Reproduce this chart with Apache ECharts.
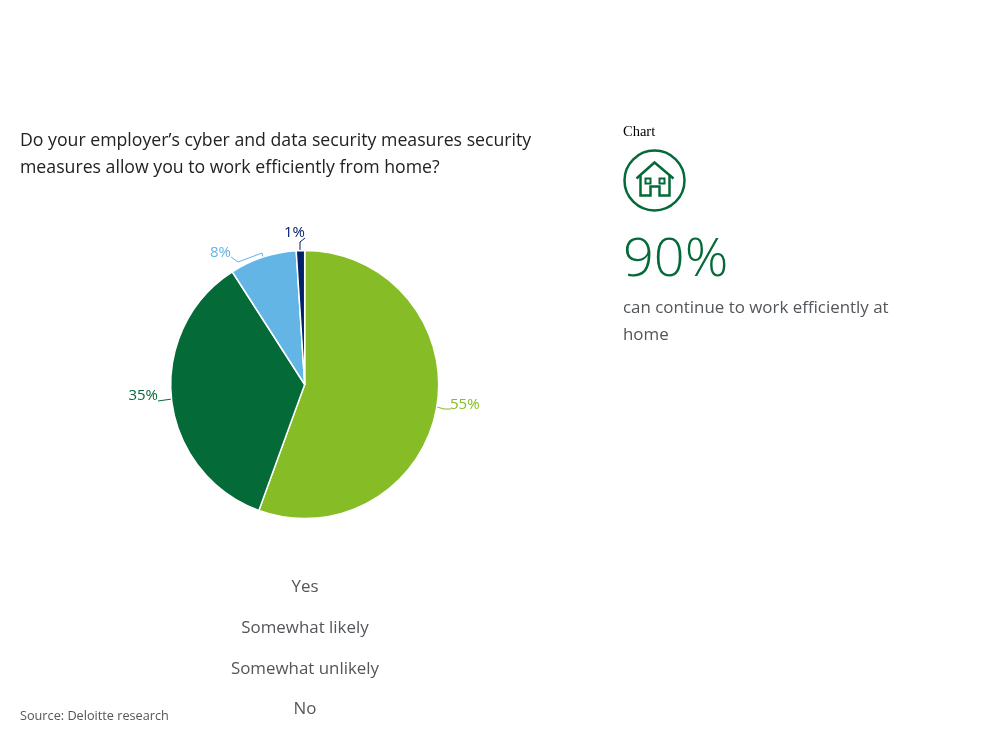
<!DOCTYPE html>
<html>
<head>
<meta charset="utf-8">
<style>
    html, body { margin: 0; padding: 0; background: #fff; }
    #chart { width: 1008px; height: 752px; }
</style>
<script src="https://cdn.jsdelivr.net/npm/echarts@6/dist/echarts.min.js"></script>
</head>
<body>
<div id="chart"></div>
<script>
// chart data
var categories = ['Yes', 'Somewhat likely', 'Somewhat unlikely', 'No'];
var shares = [55, 35, 8, 1];
var sliceColors = ['#86bc25', '#046a38', '#62b5e5', '#012169'];

var question = 'Do your employer\u2019s cyber and data security measures security\nmeasures allow you to work efficiently from home?';
var calloutValue = '90%';
var calloutText = 'can continue to work efficiently at\nhome';
var sourceText = 'Source: Deloitte research';

var fontName = '"Open Sans", sans-serif';
var darkGreen = '#046a38';
var grey = '#53565a';

// label anchor and leader line for each slice, clockwise from the top
var labelSpots = [
    {x: 450, y: 405, align: 'left', line: [[437, 407], [444, 409], [451, 409]]},
    {x: 158, y: 396, align: 'right', line: [[172, 399], [165, 400], [158, 401]]},
    {x: 231, y: 253, align: 'right', line: [[263, 258], [262, 253], [238, 262], [231, 257]]},
    {x: 305, y: 233, align: 'right', line: [[300, 251], [300, 242], [305, 238]]}
];

var chart = echarts.init(document.getElementById('chart'));

// the legend has no markers and its entries are centred under the pie
var legendFontSize = 16.9;
var measure = document.createElement('canvas').getContext('2d');
measure.font = legendFontSize + 'px "Open Sans"';

var legends = categories.map(function (name, i) {
    return {
        data: [name],
        left: 300 - measure.measureText(name).width / 2,
        top: 579 + i * 40.7,
        itemWidth: 0,
        itemHeight: 0,
        icon: 'none',
        selectedMode: false,
        padding: 0,
        textStyle: {
            padding: 0,
            fontFamily: fontName,
            fontSize: legendFontSize,
            color: grey
        }
    };
});

var option = {
    animation: false,
    backgroundColor: '#ffffff',
    color: sliceColors,
    title: [
        {
            text: question,
            left: 20,
            top: 127,
            padding: 0,
            textStyle: {fontFamily: fontName, fontSize: 17.7, fontWeight: 'normal', color: '#222222', lineHeight: 27}
        },
        {
            text: 'Chart',
            left: 623,
            top: 125,
            padding: 0,
            textStyle: {fontFamily: '"Liberation Serif", serif', fontSize: 14.5, fontWeight: 'normal', color: '#000000'}
        },
        {
            text: calloutValue,
            left: 623,
            top: 234,
            padding: 0,
            textStyle: {fontFamily: fontName, fontSize: 54, fontWeight: 300, color: darkGreen}
        },
        {
            text: calloutText,
            left: 623,
            top: 295,
            padding: 0,
            textStyle: {fontFamily: fontName, fontSize: 16.9, fontWeight: 'normal', color: grey, lineHeight: 27}
        },
        {
            text: sourceText,
            left: 20,
            top: 710,
            padding: 0,
            textStyle: {fontFamily: fontName, fontSize: 12.7, fontWeight: 'normal', color: grey}
        }
    ],
    legend: legends,
    series: [
        {
            type: 'pie',
            center: [304.7, 384.5],
            radius: 134,
            startAngle: 90,
            clockwise: true,
            silent: true,
            data: categories.map(function (name, i) {
                return {
                    name: name,
                    value: shares[i],
                    label: {color: sliceColors[i]},
                    labelLine: {lineStyle: {color: sliceColors[i], width: 1}}
                };
            }),
            itemStyle: {borderColor: '#ffffff', borderWidth: 1.5},
            label: {
                show: true,
                position: 'outside',
                formatter: '{c}%',
                fontFamily: fontName,
                fontSize: 15
            },
            labelLine: {show: true, smooth: false},
            labelLayout: function (params) {
                var spot = labelSpots[params.dataIndex];
                return {
                    x: spot.x,
                    y: spot.y,
                    align: spot.align,
                    verticalAlign: 'middle',
                    labelLinePoints: spot.line
                };
            }
        }
    ],
    graphic: {
        elements: [
            {
                type: 'group',
                left: 622,
                top: 148,
                silent: true,
                children: [
                    {type: 'circle', shape: {cx: 32, cy: 32, r: 30}, style: {fill: 'none', stroke: darkGreen, lineWidth: 2.5}},
                    {type: 'polyline', shape: {points: [[14, 30], [32, 14], [51, 30]]}, style: {fill: 'none', stroke: darkGreen, lineWidth: 2.5}},
                    {type: 'polyline', shape: {points: [[18, 27], [18, 47], [28, 47], [28, 38], [37, 38], [37, 47], [47, 47], [47, 27]]}, style: {fill: 'none', stroke: darkGreen, lineWidth: 2.5}},
                    {type: 'rect', shape: {x: 23, y: 30, width: 5, height: 5}, style: {fill: 'none', stroke: darkGreen, lineWidth: 2}},
                    {type: 'rect', shape: {x: 37, y: 30, width: 5, height: 5}, style: {fill: 'none', stroke: darkGreen, lineWidth: 2}}
                ]
            }
        ]
    }
};

chart.setOption(option);
</script>
</body>
</html>
